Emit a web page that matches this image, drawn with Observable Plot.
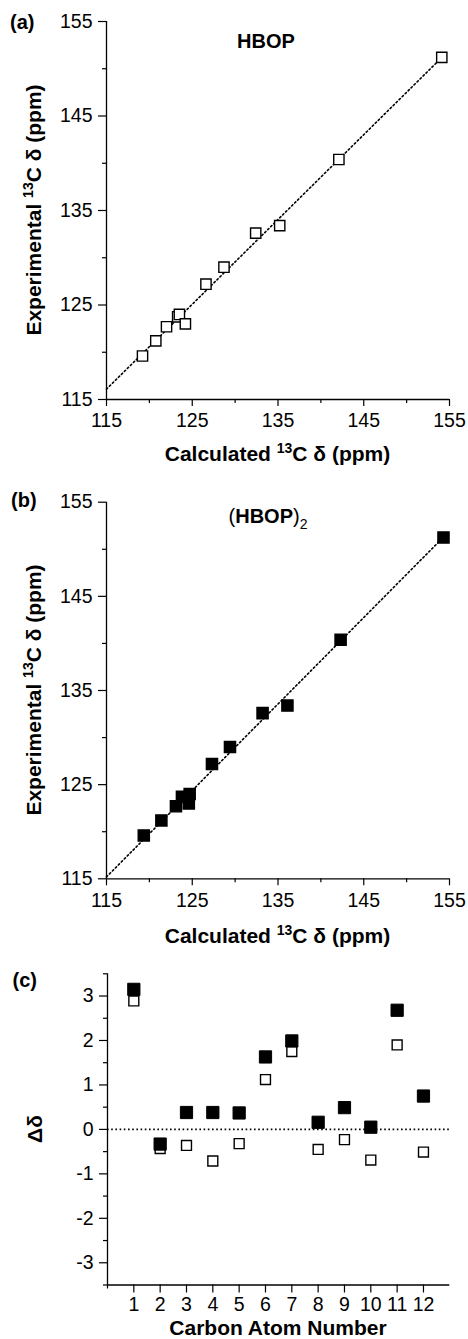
<!DOCTYPE html>
<html>
<head>
<meta charset="utf-8">
<script src="https://cdn.jsdelivr.net/npm/d3@7"></script>
<script src="https://cdn.jsdelivr.net/npm/@observablehq/plot@0.6"></script>
<style>
  body { margin: 0; background: #fff; }
  #chart { position: relative; width: 468px; height: 1339px; overflow: hidden; background: #fff; }
  #chart svg { position: absolute; left: 0; }
</style>
</head>
<body>
<div id="chart"></div>
<script>
// ---------- data ----------
// (a) HBOP monomer: calculated vs experimental 13C shifts (ppm)
const calcHBOP = [119.2, 120.75, 122.0, 123.3, 123.5, 124.2, 126.6, 128.7, 132.4, 135.2, 142.1, 154.1];
const expHBOP  = [119.6, 121.2, 122.7, 123.75, 124.0, 123.0, 127.2, 129.0, 132.6, 133.4, 140.4, 151.2];
const fitXHBOP = [115, 154.0];
const fitYHBOP = [116.1, 151.1];
// (b) (HBOP)2 dimer
const calcDimer = [119.35, 121.4, 123.1, 123.8, 124.7, 124.6, 127.3, 129.4, 133.2, 136.1, 142.3, 154.3];
const expDimer  = [119.6, 121.2, 122.7, 123.7, 124.0, 123.0, 127.2, 129.0, 132.6, 133.4, 140.4, 151.25];
const fitXDimer = [115, 154.2];
const fitYDimer = [115.2, 151.2];
// (c) deviation per carbon atom
const carbons    = [1, 2, 3, 4, 5, 6, 7, 8, 9, 10, 11, 12];
const deltaHBOP  = [2.89, -0.43, -0.36, -0.71, -0.32, 1.12, 1.75, -0.45, -0.23, -0.69, 1.90, -0.51];
const deltaDimer = [3.15, -0.33, 0.38, 0.38, 0.37, 1.63, 1.99, 0.16, 0.49, 0.05, 2.68, 0.75];
// ticks
const shiftTicks      = [115, 125, 135, 145, 155];
const shiftMinorTicks = [120, 130, 140, 150];
const deltaTicks      = [-3, -2, -1, 0, 1, 2, 3];
const deltaMinorTicks = [-3.5, -2.5, -1.5, -0.5, 0.5, 1.5, 2.5, 3.5];
const carbonTicks     = carbons;
const carbonMinorTicks = [0];

// ---------- drawing ----------
const FONT = "'Liberation Sans', Arial, Helvetica, sans-serif";
const chart = document.getElementById("chart");
const W = 468, ML = 106, MR = 19;
const plain = d => String(d);

function baseStyle() {
  return { fontFamily: FONT, fontSize: "19px", background: "none", color: "black", overflow: "visible" };
}

function addText(svg, { x, y, rotate = 0, anchor = "middle", size = 21, parts }) {
  const t = d3.select(svg).append("text")
    .attr("transform", `translate(${x},${y}) rotate(${rotate})`)
    .attr("text-anchor", anchor)
    .attr("font-family", FONT)
    .attr("font-size", size)
    .attr("fill", "black");
  let shift = 0;
  for (const p of parts) {
    const s = t.append("tspan").text(p.t);
    const target = p.sup ? -8 : p.sub ? 6 : 0;
    if (target !== shift) { s.attr("dy", target - shift); shift = target; }
    if (p.sup || p.sub) s.attr("font-size", 14);
    s.attr("font-weight", p.normal ? "normal" : "bold");
  }
}

function shiftPanel({ calc, exp, fitX, fitY, filled, top, height, mTop, mBottom, r }) {
  const pts = calc.map((c, i) => ({ x: c, y: exp[i] }));
  const fit = fitX.map((x, i) => ({ x, y: fitY[i] }));
  const svg = Plot.plot({
    width: W, height, marginTop: mTop, marginBottom: mBottom, marginLeft: ML, marginRight: MR,
    style: baseStyle(),
    x: { domain: [115, 155] },
    y: { domain: [115, 155] },
    marks: [
      Plot.ruleX([115], { y1: 115, y2: 155, strokeWidth: 1.3 }),
      Plot.ruleY([115], { x1: 115, x2: 155, strokeWidth: 1.3 }),
      Plot.axisX({ ticks: shiftTicks, tickSize: 7, tickPadding: 7, tickFormat: plain, label: null, strokeWidth: 1.2, fontSize: 19.5 }),
      Plot.axisX({ ticks: shiftMinorTicks, tickSize: 4, tickFormat: () => "", label: null, strokeWidth: 1.2 }),
      Plot.axisY({ ticks: shiftTicks, tickSize: 8, tickPadding: 6, tickFormat: plain, label: null, strokeWidth: 1.2, fontSize: 19.5 }),
      Plot.axisY({ ticks: shiftMinorTicks, tickSize: 4, tickFormat: () => "", label: null, strokeWidth: 1.2 }),
      Plot.line(fit, { x: "x", y: "y", stroke: "black", strokeWidth: 1.6, strokeDasharray: "1.6,2.6" }),
      Plot.dot(pts, { x: "x", y: "y", symbol: "square", r, fill: filled ? "black" : "white", stroke: "black", strokeWidth: 1.4 })
    ]
  });
  svg.style.top = top + "px";
  chart.appendChild(svg);
  return svg;
}

// Panel (a)
const svgA = shiftPanel({ calc: calcHBOP, exp: expHBOP, fitX: fitXHBOP, fitY: fitYHBOP, filled: false,
  top: 0, height: 470, mTop: 21, mBottom: 71, r: 5.8 });
addText(svgA, { x: 10, y: 29, anchor: "start", size: 20, parts: [{ t: "(a)" }] });
addText(svgA, { x: 266, y: 48, size: 20, parts: [{ t: "HBOP" }] });
addText(svgA, { x: 40.5, y: 210, rotate: -90, parts: [{ t: "Experimental " }, { t: "13", sup: true }, { t: "C δ (ppm)" }] });
addText(svgA, { x: 277.5, y: 460.5, parts: [{ t: "Calculated " }, { t: "13", sup: true }, { t: "C δ (ppm)" }] });

// Panel (b)
const svgB = shiftPanel({ calc: calcDimer, exp: expDimer, fitX: fitXDimer, fitY: fitYDimer, filled: true,
  top: 470, height: 480, mTop: 31.7, mBottom: 71.7, r: 6.3 });
addText(svgB, { x: 11, y: 37, anchor: "start", size: 20, parts: [{ t: "(b)" }] });
addText(svgB, { x: 268, y: 53.3, size: 20, parts: [{ t: "(", normal: true }, { t: "HBOP" }, { t: ")", normal: true }, { t: "2", sub: true, normal: true }] });
addText(svgB, { x: 40.5, y: 220, rotate: -90, parts: [{ t: "Experimental " }, { t: "13", sup: true }, { t: "C δ (ppm)" }] });
addText(svgB, { x: 277.5, y: 472.7, parts: [{ t: "Calculated " }, { t: "13", sup: true }, { t: "C δ (ppm)" }] });

// Panel (c)
const open = carbons.map((c, i) => ({ c, d: deltaHBOP[i] }));
const solid = carbons.map((c, i) => ({ c, d: deltaDimer[i] }));
const svgC = Plot.plot({
  width: W, height: 389, marginTop: 23.3, marginBottom: 54.5, marginLeft: ML + 1, marginRight: 18.7,
  style: baseStyle(),
  x: { domain: [0, 13] },
  y: { domain: [-3.5, 3.5] },
  marks: [
    Plot.ruleX([0], { y1: -3.5, y2: 3.5, strokeWidth: 1.3 }),
    Plot.ruleY([-3.5], { x1: 0, x2: 13, strokeWidth: 1.3 }),
    Plot.ruleY([0], { x1: 0, x2: 13, stroke: "black", strokeWidth: 1.6, strokeDasharray: "1.6,2.6" }),
    Plot.axisX({ ticks: carbonTicks, tickSize: 8, tickPadding: 4, tickFormat: plain, label: null, strokeWidth: 1.2, fontSize: 19.5 }),
    Plot.axisX({ ticks: carbonMinorTicks, tickSize: 4, tickFormat: () => "", label: null, strokeWidth: 1.2 }),
    Plot.axisY({ ticks: deltaTicks, tickSize: 8, tickPadding: 6, tickFormat: plain, label: null, strokeWidth: 1.2, fontSize: 19.5 }),
    Plot.axisY({ ticks: deltaMinorTicks, tickSize: 4, tickFormat: () => "", label: null, strokeWidth: 1.2 }),
    Plot.dot(open, { x: "c", y: "d", symbol: "square", r: 5.6, fill: "white", stroke: "black", strokeWidth: 1.4 }),
    Plot.dot(solid, { x: "c", y: "d", symbol: "square", r: 6.9, fill: "black", stroke: "black", strokeWidth: 1 })
  ]
});
svgC.style.top = "950px";
chart.appendChild(svgC);
addText(svgC, { x: 12.5, y: 36.7, anchor: "start", size: 20, parts: [{ t: "(c)" }] });
addText(svgC, { x: 41.5, y: 179, rotate: -90, parts: [{ t: "Δδ" }] });
addText(svgC, { x: 278, y: 384.5, parts: [{ t: "Carbon Atom Number" }] });
</script>
</body>
</html>
